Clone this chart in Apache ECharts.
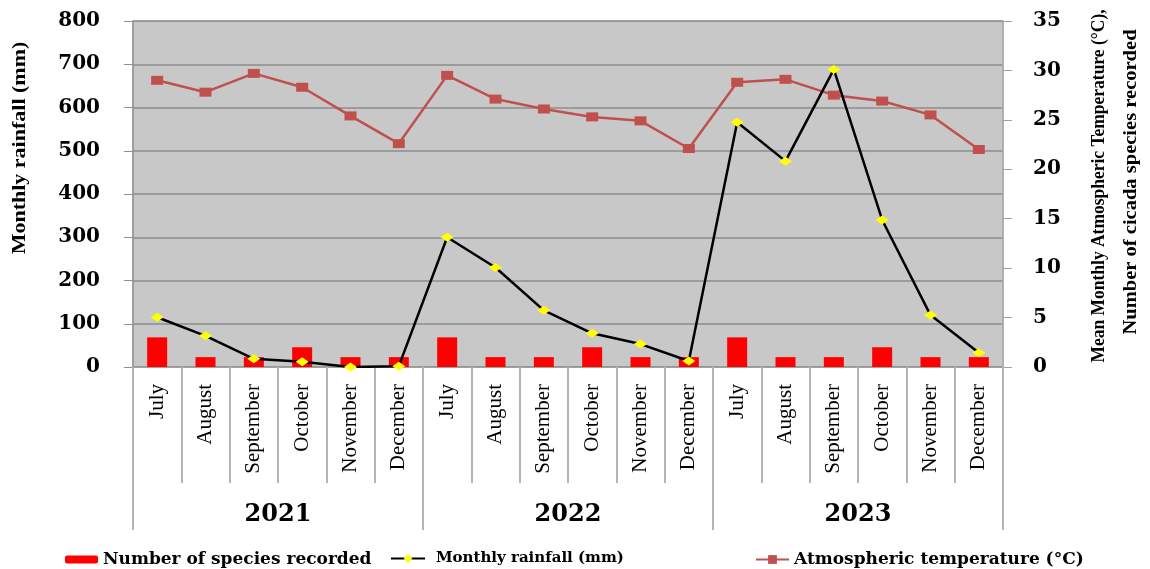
<!DOCTYPE html>
<html>
<head>
<meta charset="utf-8">
<script src="https://cdn.jsdelivr.net/npm/echarts@6/dist/echarts.min.js"></script>
<style>
  html, body { margin: 0; padding: 0; background: #ffffff; }
  #chart { width: 1150px; height: 569px; }
</style>
</head>
<body>
<div id="chart"></div>
<script>
// Survey months (July–December) for each study year
const months = [
  'July', 'August', 'September', 'October', 'November', 'December',
  'July', 'August', 'September', 'October', 'November', 'December',
  'July', 'August', 'September', 'October', 'November', 'December'
];
const years = ['2021', '2022', '2023'];

// Number of cicada species recorded per month (right axis)
const speciesRecorded = [3, 1, 1, 2, 1, 1, 3, 1, 1, 2, 1, 1, 3, 1, 1, 2, 1, 1];

// Monthly rainfall in mm (left axis)
const monthlyRainfall = [115, 72, 19, 12, 0, 2, 300, 230, 131, 78, 53, 14, 566, 476, 688, 340, 120, 33];

// Mean monthly atmospheric temperature in °C (right axis)
const meanTemperature = [29.0, 27.8, 29.7, 28.3, 25.4, 22.6, 29.5, 27.1, 26.1, 25.3, 24.9, 22.1, 28.8, 29.1, 27.5, 26.9, 25.5, 22.0];

// Axis ranges
const rainfallAxis = { min: 0, max: 800, interval: 100 };
const temperatureAxis = { min: 0, max: 35, interval: 5 };

const seriesNames = {
  species: 'Number of species recorded',
  rainfall: 'Monthly rainfall (mm)',
  temperature: 'Atmospheric temperature (°C)'
};

const serifWide = '"DejaVu Serif", serif';
const serifTimes = '"Liberation Serif", "Times New Roman", serif';

const chart = echarts.init(document.getElementById('chart'), null, { renderer: 'canvas' });

const option = {
  animation: false,
  backgroundColor: '#ffffff',
  grid: {
    left: 133, right: 147, top: 21, bottom: 202,
    show: true,
    backgroundColor: '#c8c8c8',
    borderColor: '#a8a8a8',
    borderWidth: 1
  },
  legend: [
    {
      left: 60, top: 546,
      itemWidth: 33, itemHeight: 8, itemGap: 0,
      data: [seriesNames.species],
      textStyle: { fontFamily: serifWide, fontWeight: 'bold', fontSize: 17, color: '#000' }
    },
    {
      left: 385, top: 546,
      itemWidth: 34, itemHeight: 11, itemGap: 0,
      data: [seriesNames.rainfall],
      textStyle: { fontFamily: serifWide, fontWeight: 'bold', fontSize: 15, color: '#000', padding: [0, 0, 0, 6] }
    },
    {
      left: 750, top: 546,
      itemWidth: 33, itemHeight: 11, itemGap: 0,
      data: [seriesNames.temperature],
      textStyle: { fontFamily: serifWide, fontWeight: 'bold', fontSize: 17, color: '#000' }
    }
  ],
  xAxis: [
    {
      type: 'category',
      data: months,
      position: 'bottom',
      axisLine: { show: true, lineStyle: { color: '#a0a0a0', width: 1 } },
      axisTick: { show: true, length: 116, lineStyle: { color: '#b4b4b4', width: 2 } },
      axisLabel: {
        rotate: 90, margin: 17, interval: 0,
        fontFamily: serifTimes, fontSize: 21, color: '#000'
      }
    },
    {
      type: 'category',
      data: years,
      position: 'bottom',
      axisLine: { show: false },
      axisTick: { show: true, length: 163, lineStyle: { color: '#b4b4b4', width: 2 } },
      axisLabel: {
        margin: 136, interval: 0,
        fontFamily: serifWide, fontWeight: 'bold', fontSize: 24, color: '#000'
      }
    }
  ],
  yAxis: [
    {
      type: 'value',
      position: 'left',
      min: rainfallAxis.min, max: rainfallAxis.max, interval: rainfallAxis.interval,
      axisLine: { show: true, lineStyle: { color: '#909090', width: 1.5 } },
      axisTick: { show: true, length: 9, lineStyle: { color: '#909090', width: 1 } },
      splitLine: { show: true, lineStyle: { color: '#8c8c8c', width: 1.5 } },
      axisLabel: { margin: 33, fontFamily: serifWide, fontWeight: 'bold', fontSize: 20, color: '#000' }
    },
    {
      type: 'value',
      position: 'right',
      min: temperatureAxis.min, max: temperatureAxis.max, interval: temperatureAxis.interval,
      axisLine: { show: true, lineStyle: { color: '#a8a8a8', width: 1.5 } },
      axisTick: { show: true, length: 9, lineStyle: { color: '#a0a0a0', width: 1 } },
      splitLine: { show: false },
      axisLabel: { margin: 30, fontFamily: serifWide, fontWeight: 'bold', fontSize: 20, color: '#000' }
    }
  ],
  series: [
    {
      name: seriesNames.species,
      type: 'bar',
      xAxisIndex: 0, yAxisIndex: 1,
      data: speciesRecorded,
      barWidth: 20,
      itemStyle: { color: '#ff0000' },
      z: 2
    },
    {
      name: seriesNames.rainfall,
      type: 'line',
      xAxisIndex: 0, yAxisIndex: 0,
      data: monthlyRainfall,
      symbol: 'diamond',
      symbolSize: [13, 9],
      showSymbol: true,
      lineStyle: { color: '#000000', width: 2.5 },
      itemStyle: { color: '#ffff00', borderWidth: 0 },
      z: 4
    },
    {
      name: seriesNames.temperature,
      type: 'line',
      xAxisIndex: 0, yAxisIndex: 1,
      data: meanTemperature,
      symbol: 'rect',
      symbolSize: [12, 9],
      showSymbol: true,
      lineStyle: { color: '#c0504d', width: 2.5 },
      itemStyle: { color: '#c0504d', borderWidth: 0 },
      z: 3
    }
  ],
  graphic: [
    {
      type: 'text',
      x: 20, y: 148,
      rotation: Math.PI / 2,
      scaleX: 1.0, scaleY: 0.82,
      style: {
        text: 'Monthly rainfall (mm)',
        fontFamily: serifTimes, fontWeight: 'bold', fontSize: 22,
        fill: '#000',
        align: 'center', verticalAlign: 'middle',
        textAlign: 'center', textVerticalAlign: 'middle'
      }
    },
    {
      type: 'text',
      x: 1099, y: 186,
      rotation: Math.PI / 2,
      scaleX: 0.92, scaleY: 1.0,
      style: {
        text: 'Mean Monthly Atmospheric Temperature (°C),',
        fontFamily: serifTimes, fontWeight: 'bold', fontSize: 19,
        fill: '#000',
        align: 'center', verticalAlign: 'middle',
        textAlign: 'center', textVerticalAlign: 'middle'
      }
    },
    {
      type: 'text',
      x: 1131, y: 182,
      rotation: Math.PI / 2,
      scaleX: 1.08, scaleY: 1.0,
      style: {
        text: 'Number of cicada species recorded',
        fontFamily: serifTimes, fontWeight: 'bold', fontSize: 19,
        fill: '#000',
        align: 'center', verticalAlign: 'middle',
        textAlign: 'center', textVerticalAlign: 'middle'
      }
    }
  ]
};

chart.setOption(option);
</script>
</body>
</html>
